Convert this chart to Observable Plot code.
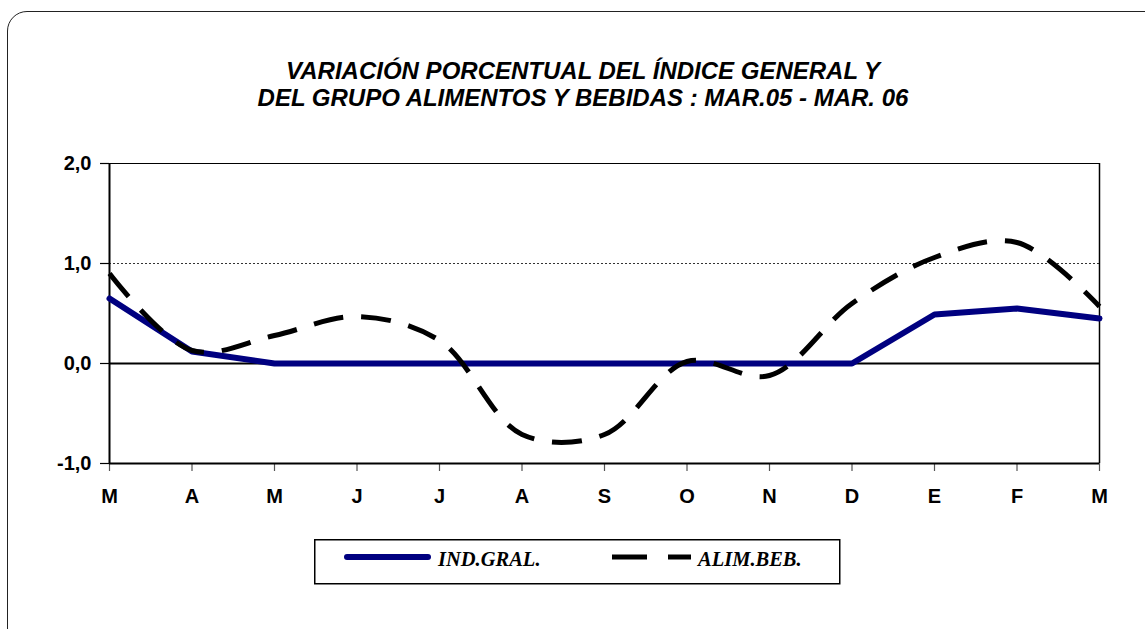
<!DOCTYPE html>
<html>
<head>
<meta charset="utf-8">
<script src="https://cdn.jsdelivr.net/npm/d3@7"></script>
<script src="https://cdn.jsdelivr.net/npm/@observablehq/plot@0.6"></script>
<style>
  html, body { margin: 0; padding: 0; background: #fff; }
  #wrap { position: relative; width: 1145px; height: 629px; overflow: hidden; }
  #frame { position: absolute; left: 7px; top: 11px; width: 1200px; height: 700px;
           border: 1.3px solid #222; border-radius: 20px; box-sizing: border-box; }
  #title { position: absolute; left: 0; width: 1166px; top: 57px; text-align: center;
           font-family: "Liberation Sans", Arial, sans-serif; font-style: italic; font-weight: bold;
           font-size: 24px; line-height: 27px; color: #000; }
  #chart { position: absolute; left: 0; top: 0; }
  #legend { position: absolute; left: 314px; top: 539px; }
</style>
</head>
<body>
<div id="wrap">
  <div id="frame"></div>
  <div id="chart"></div>
  <div id="title">VARIACIÓN PORCENTUAL DEL ÍNDICE GENERAL Y<br>DEL GRUPO ALIMENTOS Y BEBIDAS : MAR.05 - MAR. 06</div>
  <div id="legend"></div>
</div>
<script>
const months = ["M","A","M","J","J","A","S","O","N","D","E","F","M"];
const indGral = [0.65, 0.12, 0.0, 0.0, 0.0, 0.0, 0.0, 0.0, 0.0, 0.0, 0.49, 0.55, 0.45];
const alimBeb = [0.90, 0.13, 0.28, 0.47, 0.23, -0.71, -0.71, 0.02, -0.12, 0.60, 1.06, 1.21, 0.57];
const yTicks = [-1, 0, 1, 2];
const seriesNames = ["IND.GRAL.", "ALIM.BEB."];

const rowsInd = months.map((m, i) => ({i, v: indGral[i]}));
const rowsAlim = months.map((m, i) => ({i, v: alimBeb[i]}));

const chart = Plot.plot({
  width: 1145,
  height: 629,
  marginLeft: 109,
  marginRight: 46,
  marginTop: 163,
  marginBottom: 166,
  style: {fontFamily: "'Liberation Sans', Arial, sans-serif", fontSize: "20px", fontWeight: "bold", color: "#000", background: "transparent"},
  x: {type: "linear", domain: [0, months.length - 1], label: null},
  y: {domain: [-1, 2], label: null},
  marks: [
    Plot.ruleY([1], {stroke: "#333", strokeWidth: 1, strokeDasharray: "2,2"}),
    Plot.ruleY([2], {stroke: "#000", strokeWidth: 1.2}),
    Plot.ruleX([months.length - 1], {stroke: "#000", strokeWidth: 1.5}),
    Plot.ruleY([0], {stroke: "#000", strokeWidth: 2}),
    Plot.axisX(d3.range(months.length), {label: null, tickFormat: i => months[i], tickSize: 8, tickPadding: 17, stroke: "#555", strokeWidth: 1.2, fontWeight: "bold"}),
    Plot.axisY(yTicks, {label: null, tickFormat: d => d3.format(".1f")(d).replace(".", ",").replace("\u2212", "-"), tickSize: 9, tickPadding: 9, stroke: "#000", strokeWidth: 1.2, fontWeight: "bold"}),
    Plot.ruleY([-1], {stroke: "#000", strokeWidth: 2}),
    Plot.ruleX([0], {stroke: "#000", strokeWidth: 2}),
    Plot.line(rowsInd, {x: "i", y: "v", stroke: "#000080", strokeWidth: 6, strokeLinejoin: "round", strokeLinecap: "round"}),
    Plot.line(rowsAlim, {x: "i", y: "v", stroke: "#000", strokeWidth: 5, curve: "catmull-rom", strokeDasharray: "30,18", strokeLinecap: "butt"})
  ]
});
document.getElementById("chart").appendChild(chart);

// Legend
const lg = d3.select("#legend").append("svg").attr("width", 530).attr("height", 48);
lg.append("rect").attr("x", 0.75).attr("y", 0.75).attr("width", 525).attr("height", 44)
  .attr("fill", "#fff").attr("stroke", "#000").attr("stroke-width", 1.5);
lg.append("line").attr("x1", 33).attr("x2", 114).attr("y1", 18).attr("y2", 18)
  .attr("stroke", "#000080").attr("stroke-width", 6).attr("stroke-linecap", "round");
lg.append("text").attr("x", 124).attr("y", 27).text(seriesNames[0])
  .attr("font-family", "'Liberation Serif', 'Times New Roman', serif").attr("font-style", "italic").attr("font-weight", "bold").attr("font-size", 20.5);
lg.append("line").attr("x1", 298).attr("x2", 377).attr("y1", 18).attr("y2", 18)
  .attr("stroke", "#000").attr("stroke-width", 5).attr("stroke-dasharray", "35,21");
lg.append("text").attr("x", 384).attr("y", 27).text(seriesNames[1])
  .attr("font-family", "'Liberation Serif', 'Times New Roman', serif").attr("font-style", "italic").attr("font-weight", "bold").attr("font-size", 20.5);
</script>
</body>
</html>
